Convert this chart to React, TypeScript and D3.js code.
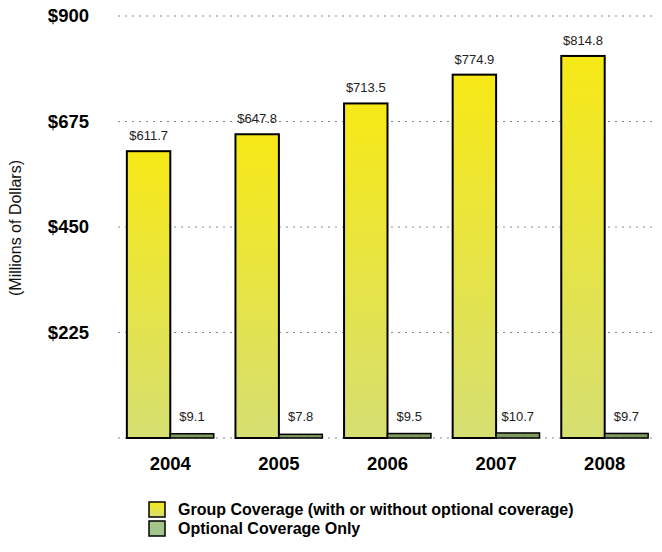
import React from "react";
import * as d3 from "d3";

const years = ["2004", "2005", "2006", "2007", "2008"];
const groupValues = [611.7, 647.8, 713.5, 774.9, 814.8];
const optionalValues = [9.1, 7.8, 9.5, 10.7, 9.7];
const yTicks = [0, 225, 450, 675, 900];
const legendLabels = ["Group Coverage (with or without optional coverage)", "Optional Coverage Only"];

const W = 662, H = 552;
const FONT = "'Liberation Sans Narrow', 'Arial Narrow', 'Liberation Sans', Arial, sans-serif";

export default function App() {
  const x = d3.scaleBand<string>().domain(years).range([116, 659]).paddingInner(0.2).paddingOuter(0.1);
  const y = d3.scaleLinear().domain([0, 900]).range([438, 16]);
  const sub = d3.scaleBand<string>().domain(["g", "o"]).range([0, x.bandwidth()]);
  const fmt = (v: number) => "$" + v.toFixed(1);
  return (
    <svg width={W} height={H} style={{ position: "absolute", left: 0, top: 0, background: "#fff" }} fontFamily={FONT}>
      <defs>
        <linearGradient id="yg" x1="0" y1="0" x2="0" y2="1">
          <stop offset="0%" stopColor="#f7e916" />
          <stop offset="100%" stopColor="#d6df72" />
        </linearGradient>
      </defs>
      {yTicks.map((t) => (
        <g key={t}>
          <line x1={118} x2={656} y1={y(t)} y2={y(t)} stroke="#888" strokeWidth={1} strokeDasharray="2,5" />
          {t > 0 && (
            <text x={89} y={y(t) + 6} textAnchor="end" fontSize={18.5} fontWeight="bold" fill="#000">
              ${t}
            </text>
          )}
        </g>
      ))}
      <text transform={`translate(21,${228}) rotate(-90)`} textAnchor="middle" fontSize={16} fill="#111">
        (Millions of Dollars)
      </text>
      {years.map((yr, i) => {
        const gx = x(yr)!;
        const gv = groupValues[i], ov = optionalValues[i];
        const xg = gx + sub("g")!, xo = gx + sub("o")!, bw = sub.bandwidth();
        return (
          <g key={yr}>
            <rect x={xg} y={y(gv)} width={bw} height={y(0) - y(gv)} fill="url(#yg)" stroke="#000" strokeWidth={2} />
            <rect x={xo} y={y(ov)} width={bw} height={y(0) - y(ov)} fill="#7f9a5e" stroke="#000" strokeWidth={1.5} />
            <text x={xg + bw / 2} y={y(gv) - 11} textAnchor="middle" fontSize={13} fill="#222">{fmt(gv)}</text>
            <text x={xo + bw / 2} y={421} textAnchor="middle" fontSize={13} fill="#222">{fmt(ov)}</text>
            <text x={gx + x.bandwidth() / 2} y={470} textAnchor="middle" fontSize={18.5} fontWeight="bold" fill="#000">{yr}</text>
          </g>
        );
      })}
      {legendLabels.map((l, i) => (
        <g key={l}>
          <rect x={149} y={502 + i * 19} width={16} height={15} fill={i === 0 ? "url(#yg)" : "#a3c58a"} stroke="#000" strokeWidth={1.5} />
          <text x={178} y={515 + i * 19} fontSize={16} fontWeight="bold" fill="#000">{l}</text>
        </g>
      ))}
    </svg>
  );
}
